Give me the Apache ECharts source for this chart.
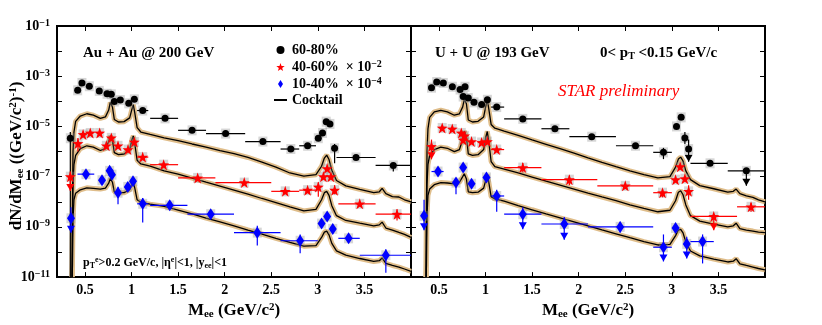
<!DOCTYPE html>
<html>
  <head>
    <meta charset="utf-8" />
    <title>Dielectron invariant mass spectra</title>
    <script src="https://cdn.jsdelivr.net/npm/echarts@6/dist/echarts.min.js"></script>
    <style>
      html, body { margin: 0; padding: 0; background: #fff; }
      #chart { width: 822px; height: 325px; }
    </style>
  </head>
  <body>
    <div id="chart"></div>
    <script type="text/javascript">
      // tick values
      var massTicks = [0.5, 1, 1.5, 2, 2.5, 3, 3.5];
      var yieldTicks = [1e-11, 1e-10, 1e-9, 1e-8, 1e-7, 1e-6, 1e-5, 1e-4, 1e-3, 1e-2, 1e-1];
      var yieldLabels = [1e-11, 1e-9, 1e-7, 1e-5, 1e-3, 1e-1];

      // cocktail mass grid, shared by all six cocktail curves
      var cocktailMass = [0.362, 0.366, 0.372, 0.382, 0.40, 0.45, 0.52, 0.59, 0.665, 0.72,
        0.755, 0.772, 0.783, 0.795, 0.815, 0.86, 0.92, 0.98, 1.005, 1.019,
        1.035, 1.06, 1.10, 1.2, 1.35, 1.5, 1.65, 1.8, 1.95, 2.1,
        2.25, 2.4, 2.55, 2.7, 2.85, 2.98, 3.04, 3.07, 3.095, 3.12,
        3.15, 3.2, 3.3, 3.45, 3.6, 3.66, 3.69, 3.73, 3.8, 3.87, 3.93, 4.0];

      // Au+Au cocktails (60-80%, 40-60% x1e-2, 10-40% x1e-4)
      var auCocktail6080 = [1e-11, 1e-8, 1e-6, 6e-6, 1.6e-5, 2.6e-5, 3.2e-5, 2.8e-5, 2.1e-5, 2.4e-5,
        4.5e-5, 9e-5, 1.07e-4, 6e-5, 1.9e-5, 1.5e-5, 1.55e-5, 2.2e-5, 5e-5, 7.4e-5,
        3.5e-5, 9e-6, 6e-6, 4.8e-6, 3.5e-6, 2.7e-6, 2.0e-6, 1.5e-6, 1.1e-6, 8.2e-7,
        5.8e-7, 3.8e-7, 2.4e-7, 1.4e-7, 1.05e-7, 1.2e-7, 2.6e-7, 5.5e-7, 7.2e-7, 4.8e-7,
        1.8e-7, 7e-8, 4.3e-8, 3.1e-8, 2.3e-8, 2.5e-8, 3.4e-8, 2.1e-8, 1.6e-8, 1.55e-8, 1.2e-8, 1.0e-8];
      var auCocktail4060 = [1e-11, 1e-9, 5e-8, 3e-7, 7e-7, 1.3e-6, 1.7e-6, 1.5e-6, 1.1e-6, 1.3e-6,
        2.5e-6, 4.2e-6, 4.8e-6, 3e-6, 9e-7, 7.5e-7, 8e-7, 1.2e-6, 3e-6, 4.2e-6,
        2e-6, 4.5e-7, 3.2e-7, 2.6e-7, 1.7e-7, 1.25e-7, 8.8e-8, 6e-8, 4.2e-8, 2.9e-8,
        2e-8, 1.35e-8, 9.3e-9, 6.2e-9, 4.3e-9, 5e-9, 1.2e-8, 2.3e-8, 2.6e-8, 1.8e-8,
        7e-9, 2.8e-9, 1.8e-9, 1.4e-9, 1.1e-9, 1.2e-9, 1.55e-9, 9e-10, 7.5e-10, 6e-10, 5e-10, 3.8e-10];
      var auCocktail1040 = [1e-11, 3e-11, 2e-9, 1.2e-8, 2.2e-8, 3e-8, 3.6e-8, 3.4e-8, 3.2e-8, 3.5e-8,
        5.5e-8, 8.5e-8, 9e-8, 6e-8, 2.5e-8, 2.3e-8, 2.3e-8, 3e-8, 5e-8, 6.3e-8,
        3.5e-8, 1.2e-8, 9.5e-9, 8e-9, 6.6e-9, 4.7e-9, 3.3e-9, 2.25e-9, 1.6e-9, 1.1e-9,
        7.5e-10, 5.2e-10, 3.5e-10, 2.4e-10, 1.7e-10, 1.8e-10, 3.8e-10, 6.2e-10, 6.8e-10, 4.8e-10,
        2.2e-10, 1.1e-10, 7.5e-11, 5.5e-11, 4.2e-11, 4.5e-11, 5.8e-11, 3.5e-11, 2.9e-11, 2.5e-11, 2.1e-11, 1.7e-11];

      // U+U cocktails
      var uuCocktail6080 = [1e-11, 1e-8, 1e-6, 8e-6, 2.3e-5, 3.8e-5, 4.4e-5, 3.8e-5, 2.8e-5, 3.2e-5,
        6e-5, 1.2e-4, 1.4e-4, 8e-5, 1.8e-5, 1.5e-5, 1.6e-5, 2.4e-5, 7e-5, 1.2e-4,
        5e-5, 1.2e-5, 8.5e-6, 6.5e-6, 4.4e-6, 2.9e-6, 1.95e-6, 1.3e-6, 8.6e-7, 5.6e-7,
        3.7e-7, 2.5e-7, 1.7e-7, 1.2e-7, 9e-8, 1.0e-7, 2.4e-7, 5e-7, 6e-7, 4.2e-7,
        1.7e-7, 7.6e-8, 4.4e-8, 3.3e-8, 2.4e-8, 2.6e-8, 3.2e-8, 2.1e-8, 1.7e-8, 1.5e-8, 1.2e-8, 1e-8];
      var uuCocktail4060 = [1e-11, 1e-9, 5e-8, 3e-7, 7e-7, 1.2e-6, 1.5e-6, 1.35e-6, 1e-6, 1.2e-6,
        3e-6, 6.5e-6, 7.6e-6, 4e-6, 8e-7, 7e-7, 7.5e-7, 1.2e-6, 4e-6, 6.3e-6,
        2.5e-6, 4e-7, 2.5e-7, 2e-7, 1.4e-7, 9.6e-8, 6.6e-8, 4.6e-8, 3.2e-8, 2.2e-8,
        1.55e-8, 1.1e-8, 7.6e-9, 5.4e-9, 4e-9, 4.6e-9, 1.1e-8, 2.4e-8, 2.75e-8, 1.9e-8,
        7.5e-9, 2.8e-9, 1.7e-9, 1.3e-9, 1e-9, 1.1e-9, 1.4e-9, 8.5e-10, 7.5e-10, 6.8e-10, 6.2e-10, 5.9e-10];
      var uuCocktail1040 = [1e-11, 3e-11, 3e-9, 1.8e-8, 3.2e-8, 4.8e-8, 5.8e-8, 5.6e-8, 5.2e-8, 6e-8,
        1e-7, 1.3e-7, 1.4e-7, 8e-8, 2.5e-8, 2.3e-8, 2.4e-8, 3.5e-8, 8e-8, 1.2e-7,
        6e-8, 1.6e-8, 1.3e-8, 1.05e-8, 7e-9, 4.8e-9, 3.3e-9, 2.3e-9, 1.6e-9, 1.1e-9,
        7.6e-10, 5.3e-10, 3.7e-10, 2.6e-10, 1.9e-10, 2e-10, 4.5e-10, 7.5e-10, 8e-10, 5.8e-10,
        2.5e-10, 1.1e-10, 7e-11, 5.2e-11, 4e-11, 4.3e-11, 5.4e-11, 3.4e-11, 2.9e-11, 2.5e-11, 2.2e-11, 1.95e-11];

      // data points: [mass, yield, binLo, binHi, errLo, errHi, upperLimitTip]
      var au6080 = [
        [0.343, 3.4e-6, null, null, 1e-11, 6e-6], [0.422, 2.75e-4], [0.468, 5.4e-4], [0.547, 4.0e-4],
        [0.654, 2.6e-4], [0.737, 2.0e-4], [0.783, 1.9e-4], [0.815, 9.8e-5], [0.88, 1.12e-4],
        [0.97, 8.3e-5], [1.03, 1.2e-4], [1.12, 4.3e-5, 1.06, 1.18], [1.36, 2.1e-5, 1.2, 1.5],
        [1.65, 7.0e-6, 1.5, 1.8], [2.01, 5.2e-6, 1.8, 2.22], [2.41, 2.5e-6, 2.22, 2.6],
        [2.71, 1.26e-6, 2.6, 2.8], [2.89, 1.7e-6, 2.8, 2.98], [3.005, 3.4e-6], [3.05, 5.5e-6],
        [3.09, 1.55e-5], [3.13, 1.26e-5], [3.18, 1.35e-6, null, null, 3.4e-7, 2.0e-6],
        [3.41, 5.8e-7, 3.2, 3.62], [3.81, 2.8e-7, 3.62, 4.0, 1.6e-7, 3.5e-7]
      ];
      var au4060 = [
        [0.343, 1.0e-7, null, null, null, 1.6e-7, 2.7e-8], [0.425, 2.1e-6, null, null, 1.0e-6, 3.5e-6],
        [0.48, 4.8e-6], [0.557, 5.5e-6], [0.658, 5.5e-6], [0.73, 1.7e-6], [0.783, 3.5e-6],
        [0.855, 1.7e-6], [0.962, 1.2e-6], [1.03, 2.4e-6], [1.12, 6.0e-7, 1.06, 1.18],
        [1.345, 3.0e-7, 1.2, 1.5], [1.71, 8.9e-8, 1.5, 1.9], [2.21, 5.8e-8, 1.9, 2.5],
        [2.65, 2.6e-8, 2.5, 2.8], [2.89, 2.9e-8, 2.8, 2.98], [3.005, 3.9e-8, null, null, 1.6e-8, 6.0e-8],
        [3.06, 1.0e-7], [3.10, 2.1e-7], [3.14, 1.0e-7], [3.18, 2.9e-8, null, null, 2.0e-8, 4.5e-8],
        [3.45, 8.3e-9, 3.22, 3.62], [3.85, 3.2e-9, 3.62, 4.0, 1.8e-9, 5.0e-9]
      ];
      var au1040 = [
        [0.35, 2.2e-9, null, null, null, 6.0e-9, 5.9e-10], [0.511, 1.26e-7, 0.42, 0.6],
        [0.683, 7.2e-8], [0.765, 1.7e-7], [0.79, 1.2e-7], [0.855, 2.3e-8, null, null, 8e-9, 4e-8],
        [0.96, 3.9e-8], [1.016, 6.6e-8], [1.12, 8.3e-9, 1.06, 1.18, 1.5e-9, 1.4e-8],
        [1.41, 7.2e-9, 1.2, 1.6], [1.85, 3.2e-9, 1.6, 2.1], [2.35, 5.9e-10, 2.1, 2.6, 1.8e-10, 1.1e-9],
        [2.81, 2.8e-10, 2.6, 3.0, 9e-11, 5e-10], [3.04, 1.35e-9], [3.10, 2.6e-9], [3.16, 8.3e-10],
        [3.33, 3.5e-10, 3.22, 3.45], [3.73, 7.4e-11, 3.45, 4.0, 1.5e-11, 1.3e-10]
      ];
      var uu6080 = [
        [0.42, 3.5e-4], [0.476, 5.9e-4], [0.547, 5.4e-4], [0.644, 3.8e-4], [0.727, 2.95e-4],
        [0.76, 1.55e-4], [0.78, 3.8e-4], [0.815, 1.35e-4], [0.876, 9.1e-5], [0.958, 7.4e-5],
        [1.02, 1.15e-4], [1.12, 5.9e-5, 1.06, 1.2], [1.40, 2.0e-5, 1.2, 1.6], [1.745, 8.1e-6, 1.6, 1.9],
        [2.14, 3.9e-6, 1.9, 2.4], [2.61, 1.7e-6, 2.4, 2.8], [2.91, 9.3e-7, 2.8, 3.0, 5e-7, 1.4e-6],
        [3.05, 1.0e-5], [3.10, 2.3e-5], [3.14, 3.5e-6, null, null, 2e-6, 6e-6],
        [3.18, 1.26e-6, null, null, null, 3e-6, 3.9e-7], [3.41, 3.4e-7, 3.2, 3.6],
        [3.80, 1.7e-7, 3.6, 4.0, null, null, 4.3e-8]
      ];
      var uu4060 = [
        [0.42, 1.6e-6, null, null, null, 3e-6, 4.9e-7], [0.535, 8.7e-6], [0.643, 7.9e-6],
        [0.74, 5.5e-6], [0.76, 2.9e-6], [0.775, 4.2e-6], [0.85, 2.5e-6], [0.958, 2.3e-6],
        [1.02, 2.5e-6], [1.12, 1.2e-6, 1.06, 1.2], [1.40, 2.3e-7, 1.2, 1.6, 1.5e-7, 3.5e-7],
        [1.90, 7.6e-8, 1.6, 2.2, 4.5e-8, 1.1e-7], [2.50, 4.3e-8, 2.2, 2.8],
        [2.90, 2.3e-8, 2.8, 3.0, 1.5e-8, 3.2e-8], [3.04, 7.6e-8], [3.09, 2.5e-7], [3.14, 8.3e-8],
        [3.18, 2.6e-8, null, null, 1.2e-8, 4.5e-8], [3.45, 2.6e-9, 3.2, 3.7, null, null, 7.4e-10],
        [3.85, 6.3e-9, 3.7, 4.0, 4e-9, 9e-9]
      ];
      var uu1040 = [
        [0.34, 2.75e-9, null, null, null, 1.2e-8, 7.4e-10], [0.49, 1.6e-7, 0.42, 0.55],
        [0.683, 5.8e-8, null, null, 2e-8, 8e-8], [0.76, 2.3e-7], [0.85, 5.2e-8], [1.01, 9.3e-8],
        [1.12, 1.7e-8, 1.06, 1.2, 4e-9, 3e-8], [1.40, 3.2e-9, 1.2, 1.6, null, 6e-9, 8e-10],
        [1.845, 1.3e-9, 1.6, 2.1, null, 2.5e-9, 3.1e-10], [2.445, 1.0e-9, 2.1, 2.8, 6e-10, 1.6e-9],
        [2.91, 1.55e-10, 2.8, 3.0, null, 5e-10, 4.2e-11], [3.04, 9.1e-10],
        [3.16, 2.1e-10, null, null, null, 4e-10, 5.5e-11], [3.33, 2.6e-10, 3.2, 3.45, 3.5e-11, 5e-10]
      ];

      var FONT = '"Liberation Serif", "DejaVu Serif", serif';
      var STAR = 'path://M50,0 L61.76,33.82 L97.55,34.55 L69.02,56.18 L79.39,90.45 L50,70 L20.61,90.45 L30.98,56.18 L2.45,34.55 L38.24,33.82 Z';
      var DIAMOND = 'path://M5,0 L10,8 L5,16 L0,8 Z';
      var DASH = 'path://M0,0 L26,0 L26,4 L0,4 Z';

      var chart = echarts.init(document.getElementById("chart"));

      function full(p) {
        return [p[0], p[1],
          p[2] != null ? p[2] : p[0], p[3] != null ? p[3] : p[0],
          p[4] != null ? p[4] : p[1], p[5] != null ? p[5] : p[1],
          p[6] != null ? p[6] : -1];
      }

      // error bars, bin widths and upper-limit arrows
      function barItem(params, api) {
        var x = api.value(0), y = api.value(1);
        var c = api.coord([x, y]);
        var color = api.visual("color");
        var st = { stroke: color, lineWidth: 1.2 };
        var kids = [];
        var l = api.coord([api.value(2), y]), r = api.coord([api.value(3), y]);
        if (r[0] - l[0] > 0.5) {
          kids.push({ type: "line", shape: { x1: l[0], y1: c[1], x2: r[0], y2: c[1] }, style: st });
        }
        var lo = api.coord([x, api.value(4)]), hi = api.coord([x, api.value(5)]);
        if (lo[1] - hi[1] > 0.5) {
          kids.push({ type: "line", shape: { x1: c[0], y1: lo[1], x2: c[0], y2: hi[1] }, style: st });
        }
        var tip = api.value(6);
        if (tip > 0) {
          var t = api.coord([x, tip]);
          kids.push({ type: "line", shape: { x1: c[0], y1: c[1], x2: c[0], y2: t[1] }, style: st });
          kids.push({ type: "polygon", shape: { points: [[t[0] - 4, t[1] - 7], [t[0] + 4, t[1] - 7], [t[0], t[1]]] }, style: { fill: color } });
        }
        return { type: "group", children: kids };
      }

      function pairs(xs, ys) {
        return xs.map(function (x, i) { return [x, ys[i]]; });
      }

      var series = [];

      function addCocktail(values, gi) {
        var d = pairs(cocktailMass, values);
        series.push({
          name: "Cocktail", type: "line", data: d, xAxisIndex: gi * 2, yAxisIndex: gi * 2,
          showSymbol: false, symbol: "none", z: 3, silent: true,
          lineStyle: { color: "#000", width: 1.3 }, itemStyle: { color: "#000" }
        });
        series.push({
          name: "band", type: "line", data: d, xAxisIndex: gi * 2, yAxisIndex: gi * 2,
          showSymbol: false, symbol: "none", z: 2, silent: true,
          lineStyle: { color: "#dfbd8a", width: 5 }
        });
      }

      function addPoints(name, points, color, symbol, size, gi) {
        var d = points.map(full);
        series.push({
          name: "syst", type: "scatter", data: d.map(function (p) { return [p[0], p[1]]; }),
          xAxisIndex: gi * 2, yAxisIndex: gi * 2, symbol: "rect", symbolSize: [9, 10], z: 4,
          itemStyle: { color: "rgba(140,140,140,0.45)" }, silent: true
        });
        series.push({
          name: name + " err", type: "custom", renderItem: barItem, data: d, clip: true,
          encode: { x: 0, y: 1 }, xAxisIndex: gi * 2, yAxisIndex: gi * 2, z: 5,
          itemStyle: { color: color }, silent: true
        });
        series.push({
          name: name, type: "scatter", data: d.map(function (p) { return [p[0], p[1]]; }),
          xAxisIndex: gi * 2, yAxisIndex: gi * 2, symbol: symbol, symbolSize: size, z: 6,
          itemStyle: { color: color, opacity: 1 }
        });
      }

      addCocktail(auCocktail6080, 0);
      addCocktail(auCocktail4060, 0);
      addCocktail(auCocktail1040, 0);
      addCocktail(uuCocktail6080, 1);
      addCocktail(uuCocktail4060, 1);
      addCocktail(uuCocktail1040, 1);
      addPoints("60-80%", au6080, "#000", "circle", 7, 0);
      addPoints("40-60%", au4060, "#ff0000", STAR, 11, 0);
      addPoints("10-40%", au1040, "#0000ff", DIAMOND, [8, 12], 0);
      addPoints("60-80%", uu6080, "#000", "circle", 7, 1);
      addPoints("40-60%", uu4060, "#ff0000", STAR, 11, 1);
      addPoints("10-40%", uu1040, "#0000ff", DIAMOND, [8, 12], 1);

      var rich = {
        b: { fontFamily: FONT, fontWeight: "bold", fontSize: 14, lineHeight: 16 },
        s: { fontFamily: FONT, fontWeight: "bold", fontSize: 10, lineHeight: 6, verticalAlign: "top" },
        u: { fontFamily: FONT, fontWeight: "bold", fontSize: 10, lineHeight: 6, verticalAlign: "bottom" }
      };

      function xAxes(gi) {
        var base = {
          type: "value", min: 0.2, max: 4.0, gridIndex: gi,
          axisLine: { show: false }, splitLine: { show: false },
          axisTick: { inside: true, length: 5, customValues: massTicks, lineStyle: { color: "#000" } }
        };
        return [
          Object.assign({}, base, {
            position: "bottom",
            axisLabel: { customValues: massTicks, margin: 6, color: "#000", fontFamily: FONT, fontWeight: "bold", fontSize: 14 },
            name: "M{u|ee} (GeV/c{s|2})", nameLocation: "middle", nameGap: 19,
            nameTextStyle: {
              color: "#000", fontFamily: FONT, fontWeight: "bold", fontSize: 17, lineHeight: 18,
              rich: {
                u: { fontFamily: FONT, fontWeight: "bold", fontSize: 11, lineHeight: 6, verticalAlign: "bottom" },
                s: { fontFamily: FONT, fontWeight: "bold", fontSize: 11, lineHeight: 6, verticalAlign: "top" }
              }
            }
          }),
          Object.assign({}, base, { position: "top", axisLabel: { show: false } })
        ];
      }

      function yAxes(gi) {
        var base = {
          type: "log", logBase: 10, min: 1e-11, max: 1e-1, gridIndex: gi,
          axisLine: { show: false }, splitLine: { show: false }, minorTick: { show: false },
          axisTick: { inside: true, length: 5, customValues: yieldTicks, lineStyle: { color: "#000" } }
        };
        var left = Object.assign({}, base, { position: "left", axisLabel: { show: false } });
        if (gi === 0) {
          left.axisLabel = {
            customValues: yieldLabels, margin: 7, color: "#000",
            formatter: function (v) {
              var e = Math.round(Math.log10(v));
              return "{b|10}{s|\u2212" + Math.abs(e) + "}";
            },
            rich: rich
          };
        }
        return [left, Object.assign({}, base, { position: "right", axisLabel: { show: false } })];
      }

      var option = {
        animation: false,
        backgroundColor: "#fff",
        grid: [
          { left: 57, top: 26, width: 354, height: 260, show: true, borderColor: "#000", borderWidth: 2 },
          { left: 411, top: 26, width: 354, height: 260, show: true, borderColor: "#000", borderWidth: 2 }
        ],
        xAxis: xAxes(0).concat(xAxes(1)),
        yAxis: yAxes(0).concat(yAxes(1)),
        legend: {
          left: 269, top: 38, orient: "vertical", itemWidth: 13, itemHeight: 8, itemGap: 2,
          selectedMode: false,
          data: [
            { name: "60-80%", icon: "circle" },
            { name: "40-60%", icon: STAR },
            { name: "10-40%", icon: DIAMOND },
            { name: "Cocktail", icon: DASH }
          ],
          formatter: function (name) {
            if (name === "40-60%") return "{b|40-60%  \u00d7 10}{s|\u22122}";
            if (name === "10-40%") return "{b|10-40%  \u00d7 10}{s|\u22124}";
            return "{b|" + name + "}";
          },
          textStyle: { color: "#000", fontFamily: FONT, fontWeight: "bold", fontSize: 14, rich: rich }
        },
        graphic: [
          { type: "text", x: 83, y: 53, style: { text: "Au + Au @ 200 GeV", font: "bold 15px " + FONT, fill: "#000", textVerticalAlign: "middle" } },
          { type: "text", x: 435, y: 53, style: { text: "U + U @ 193 GeV", font: "bold 15px " + FONT, fill: "#000", textVerticalAlign: "middle" } },
          {
            type: "text", x: 600, y: 53,
            style: {
              text: "{b|0< p}{u|T}{b| <0.15 GeV/c}", fill: "#000", textVerticalAlign: "middle",
              rich: {
                b: { fontFamily: FONT, fontWeight: "bold", fontSize: 15, lineHeight: 16 },
                u: { fontFamily: FONT, fontWeight: "bold", fontSize: 10, lineHeight: 5, verticalAlign: "bottom" }
              }
            }
          },
          { type: "text", x: 558, y: 92, style: { text: "STAR preliminary", font: "italic 17px " + FONT, fill: "#ff0000", textVerticalAlign: "middle" } },
          {
            type: "text", x: 83, y: 263,
            style: {
              text: "{b|p}{u|T}{s|e}{b|>0.2 GeV/c, |\u03b7}{s|e}{b||<1, |y}{u|ee}{b||<1}", fill: "#000", textVerticalAlign: "middle",
              rich: {
                b: { fontFamily: FONT, fontWeight: "bold", fontSize: 12, lineHeight: 14 },
                s: { fontFamily: FONT, fontWeight: "bold", fontSize: 8, lineHeight: 5, verticalAlign: "top" },
                u: { fontFamily: FONT, fontWeight: "bold", fontSize: 8, lineHeight: 5, verticalAlign: "bottom" }
              }
            }
          },
          {
            type: "text", x: 17, y: 156, rotation: Math.PI / 2,
            style: {
              text: "{b|dN/dM}{u|ee}{b| ((GeV/c}{s|2}{b|)}{s|-1}{b|)}", fill: "#000",
              textAlign: "center", textVerticalAlign: "middle",
              rich: {
                b: { fontFamily: FONT, fontWeight: "bold", fontSize: 17, lineHeight: 18 },
                s: { fontFamily: FONT, fontWeight: "bold", fontSize: 11, lineHeight: 6, verticalAlign: "top" },
                u: { fontFamily: FONT, fontWeight: "bold", fontSize: 11, lineHeight: 6, verticalAlign: "bottom" }
              }
            }
          }
        ],
        series: series
      };

      chart.setOption(option);
    </script>
  </body>
</html>
